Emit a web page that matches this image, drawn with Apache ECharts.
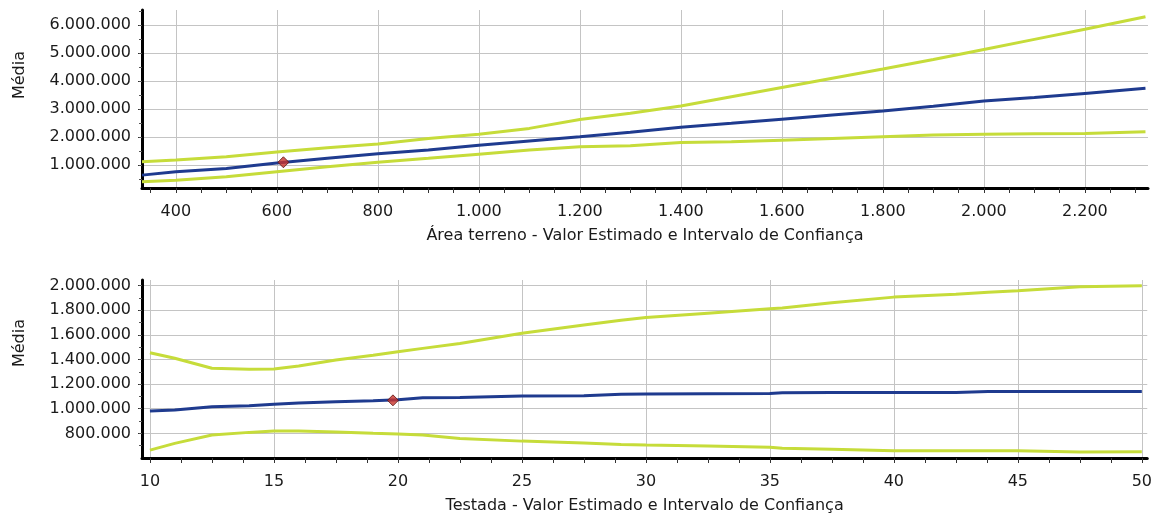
<!DOCTYPE html>
<html>
<head>
<meta charset="utf-8">
<script src="https://cdn.jsdelivr.net/npm/echarts@6/dist/echarts.min.js"></script>
<style>
html,body{margin:0;padding:0;background:#fff;}
#chart{width:1155px;height:519px;}
</style>
</head>
<body>
<div id="chart"></div>
<script>
// ---- Top chart: Área terreno ----
var areaX = [333, 400, 500, 600, 700, 800, 900, 1000, 1100, 1200, 1300, 1400, 1500, 1600, 1700, 1800, 1900, 2000, 2100, 2200, 2320];
var areaMean = [640000, 760000, 880000, 1070000, 1240000, 1400000, 1540000, 1710000, 1860000, 2010000, 2170000, 2350000, 2490000, 2640000, 2790000, 2930000, 3100000, 3290000, 3410000, 3560000, 3740000];
var areaUpper = [1120000, 1180000, 1300000, 1470000, 1620000, 1750000, 1950000, 2100000, 2310000, 2630000, 2850000, 3110000, 3440000, 3770000, 4100000, 4430000, 4770000, 5130000, 5490000, 5850000, 6300000];
var areaLower = [400000, 460000, 580000, 760000, 940000, 1100000, 1240000, 1390000, 1540000, 1650000, 1690000, 1810000, 1830000, 1890000, 1950000, 2010000, 2070000, 2100000, 2120000, 2130000, 2190000];
var areaPoint = [613, 1100000];
var areaXTicks = [400, 600, 800, 1000, 1200, 1400, 1600, 1800, 2000, 2200];
var areaXMinorTicks = [350,400,450,500,550,600,650,700,750,800,850,900,950,1000,1050,1100,1150,1200,1250,1300,1350,1400,1450,1500,1550,1600,1650,1700,1750,1800,1850,1900,1950,2000,2050,2100,2150,2200,2250,2300];
var areaYTicks = [1000000, 2000000, 3000000, 4000000, 5000000, 6000000];
var areaYMinorTicks = [500000, 1000000, 1500000, 2000000, 2500000, 3000000, 3500000, 4000000, 4500000, 5000000, 5500000, 6000000, 6500000];

// ---- Bottom chart: Testada ----
var testX = [10, 11, 12.5, 14, 15, 16, 17.5, 19, 20, 21, 22.5, 25, 27.5, 29, 30, 32.5, 35, 35.5, 37.5, 40, 42.5, 43.8, 45, 47.5, 50];
var testMean = [981000, 990000, 1016000, 1025000, 1036000, 1046000, 1057000, 1065000, 1072000, 1089000, 1092000, 1103000, 1105000, 1118000, 1120000, 1122000, 1124000, 1130000, 1131000, 1131000, 1132000, 1139000, 1140000, 1140000, 1140000];
var testUpper = [1455000, 1410000, 1328000, 1320000, 1323000, 1347000, 1396000, 1435000, 1463000, 1490000, 1530000, 1613000, 1680000, 1718000, 1740000, 1776000, 1811000, 1818000, 1860000, 1906000, 1930000, 1945000, 1957000, 1990000, 1998000];
var testLower = [664000, 719000, 786000, 808000, 819000, 819000, 812000, 800000, 794000, 786000, 759000, 737000, 722000, 710000, 705000, 698000, 688000, 680000, 672000, 659000, 659000, 658000, 659000, 648000, 650000];
var testPoint = [19.8, 1068000];
var testXTicks = [10, 15, 20, 25, 30, 35, 40, 45, 50];
var testXMinorTicks = [10,11.25,12.5,13.75,15,16.25,17.5,18.75,20,21.25,22.5,23.75,25,26.25,27.5,28.75,30,31.25,32.5,33.75,35,36.25,37.5,38.75,40,41.25,42.5,43.75,45,46.25,47.5,48.75,50];
var testYTicks = [800000, 1000000, 1200000, 1400000, 1600000, 1800000, 2000000];
var testYMinorTicks = [700000, 800000, 900000, 1000000, 1100000, 1200000, 1300000, 1400000, 1500000, 1600000, 1700000, 1800000, 1900000, 2000000];

var titleTop = 'Área terreno - Valor Estimado e Intervalo de Confiança';
var titleBottom = 'Testada - Valor Estimado e Intervalo de Confiança';
var yName = 'Média';

function zip(xs, ys) { return xs.map(function (x, i) { return [x, ys[i]]; }); }
function fmt(v) { return String(Math.round(v)).replace(/\B(?=(\d{3})+(?!\d))/g, '.'); }

var FONT = 'DejaVu Sans';
var FS = 16;
var BLUE = '#1f3b8f';
var YEL = '#c6dc3a';
var GRIDC = '#c4c4c4';

function mainX(gridIndex, min, max, ticks, name) {
  return {
    type: 'value', gridIndex: gridIndex, position: 'bottom', min: min, max: max,
    name: name, nameLocation: 'middle', nameGap: 40,
    nameTextStyle: { fontFamily: FONT, fontSize: FS, color: '#1a1a1a' },
    axisLine: { show: false },
    axisTick: { show: false, customValues: ticks },
    axisLabel: { customValues: ticks, formatter: fmt, margin: 16, fontFamily: FONT, fontSize: FS, color: '#1a1a1a' },
    splitLine: { show: true, lineStyle: { color: GRIDC, width: 1 } }
  };
}
function minorX(gridIndex, min, max, ticks) {
  return {
    type: 'value', gridIndex: gridIndex, position: 'bottom', offset: 0, min: min, max: max,
    axisLine: { show: true, onZero: false, lineStyle: { color: '#000', width: 3 } },
    axisTick: { show: true, customValues: ticks, length: 5, lineStyle: { color: '#333', width: 1 } },
    axisLabel: { show: false },
    splitLine: { show: false }
  };
}
function mainY(gridIndex, min, max, ticks, pad) {
  return {
    type: 'value', gridIndex: gridIndex, position: 'left', min: min, max: max,
    name: yName, nameLocation: 'middle', nameGap: 114,
    nameTextStyle: { fontFamily: FONT, fontSize: FS, color: '#1a1a1a', padding: [0, 0, 0, pad] },
    axisLine: { show: true, onZero: false, lineStyle: { color: '#000', width: 3 } },
    axisTick: { show: true, customValues: ticks, length: 4, lineStyle: { color: '#333', width: 1 } },
    axisLabel: { customValues: ticks, formatter: fmt, margin: 11, fontFamily: FONT, fontSize: FS, color: '#1a1a1a' },
    splitLine: { show: true, lineStyle: { color: GRIDC, width: 1 } }
  };
}
function minorY(gridIndex, min, max, ticks) {
  return {
    type: 'value', gridIndex: gridIndex, position: 'left', offset: 0, min: min, max: max,
    axisLine: { show: false },
    axisTick: { show: true, customValues: ticks, length: 3, lineStyle: { color: '#555', width: 1 } },
    axisLabel: { show: false },
    splitLine: { show: false }
  };
}
function line(name, xi, yi, data, color) {
  return {
    type: 'line', name: name, xAxisIndex: xi, yAxisIndex: yi, data: data,
    showSymbol: false, symbol: 'none', lineStyle: { color: color, width: 3 }, z: 3
  };
}
function point(xi, yi, p) {
  return {
    type: 'scatter', xAxisIndex: xi, yAxisIndex: yi, data: [p], symbol: 'diamond', symbolSize: 11,
    itemStyle: { color: '#c8322a', borderColor: '#5a1410', borderWidth: 1 }, z: 5
  };
}

var chart = echarts.init(document.getElementById('chart'), null, { renderer: 'canvas' });
chart.setOption({
  animation: false,
  backgroundColor: '#fff',
  grid: [
    { left: 142, right: 7, top: 10, height: 178 },
    { left: 142, right: 7, top: 280, height: 178 }
  ],
  xAxis: [
    mainX(0, 333, 2325, areaXTicks, titleTop),
    minorX(0, 333, 2325, areaXMinorTicks),
    mainX(1, 9.68, 50.22, testXTicks, titleBottom),
    minorX(1, 9.68, 50.22, testXMinorTicks)
  ],
  yAxis: [
    mainY(0, 180000, 6540000, areaYTicks, 48),
    minorY(0, 180000, 6540000, areaYMinorTicks),
    mainY(1, 600000, 2045000, testYTicks, 52),
    minorY(1, 600000, 2045000, testYMinorTicks)
  ],
  series: [
    line('upper', 0, 0, zip(areaX, areaUpper), YEL),
    line('lower', 0, 0, zip(areaX, areaLower), YEL),
    line('mean', 0, 0, zip(areaX, areaMean), BLUE),
    point(0, 0, areaPoint),
    line('upper', 2, 2, zip(testX, testUpper), YEL),
    line('lower', 2, 2, zip(testX, testLower), YEL),
    line('mean', 2, 2, zip(testX, testMean), BLUE),
    point(2, 2, testPoint)
  ]
});
</script>
</body>
</html>
